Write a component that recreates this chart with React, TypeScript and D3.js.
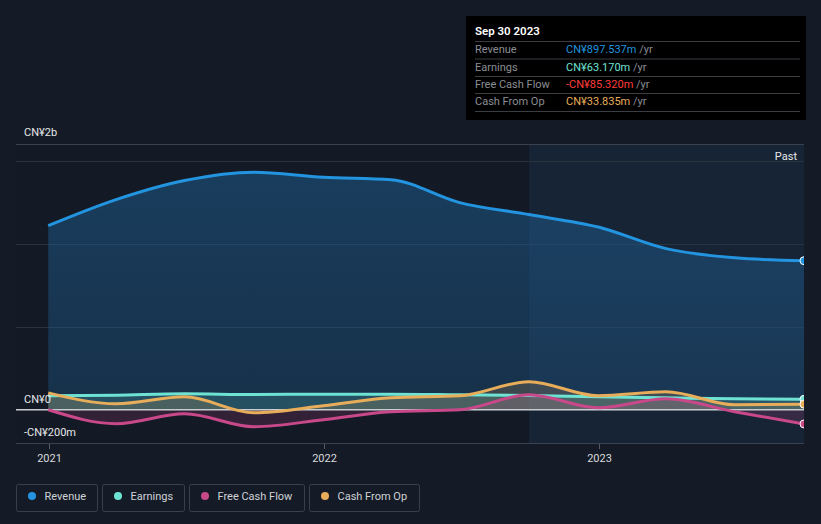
import { useRef, useEffect } from 'react'
import * as d3 from 'd3'

const dates = [
	'2020-12-31', '2021-03-31', '2021-06-30', '2021-09-30',
	'2021-12-31', '2022-03-31', '2022-06-30', '2022-09-30',
	'2022-12-31', '2023-03-31', '2023-06-30', '2023-09-30',
]
// values in CN¥ millions
const revenue = [1108, 1265, 1380, 1430, 1400, 1385, 1247, 1175, 1100, 970, 915, 897.537]
const earnings = [84, 88, 96, 92, 94, 94, 90, 86, 78, 72, 66, 63.17]
const freeCashFlow = [0, -84, -24, -102, -60, -12, 0, 90, 12, 66, -12, -85.32]
const cashFromOp = [102, 36, 78, -18, 24, 72, 84, 169, 84, 108, 30, 33.835]

const seriesNames = ['Revenue', 'Earnings', 'Free Cash Flow', 'Cash From Op']
const seriesValues = [revenue, earnings, freeCashFlow, cashFromOp]
const seriesColors = ['#2394df', '#6fe3d3', '#c8488a', '#e8ad5a']
const tooltipValues = ['CN¥897.537m', 'CN¥63.170m', '-CN¥85.320m', 'CN¥33.835m']
const tooltipColors = ['#2394df', '#6fe3d3', '#ff3b3b', '#e8ad5a']
const xTicks = ['2021-01-01', '2022-01-01', '2023-01-01']
const yLabels = [
	{ v: 2000, t: 'CN¥2b' },
	{ v: 0, t: 'CN¥0' },
	{ v: -200, t: '-CN¥200m' },
]

const W = 821
const H = 524
const font = 'Roboto, "Noto Sans", sans-serif'

const App = () => {
	const svgRef = useRef<SVGSVGElement | null>(null)

	useEffect(() => {
		document.body.style.margin = '0'
		document.body.style.background = '#151b26'
		if (!svgRef.current) return
		const svg = d3.select(svgRef.current)
		svg.selectAll('*').remove()

		const parse = d3.timeParse('%Y-%m-%d')
		const t = dates.map((d) => parse(d)!)

		const x = d3
			.scaleTime()
			.domain([parse('2021-01-01')!, parse('2023-09-30')!])
			.range([49, 804])
		const y = d3.scaleLinear().domain([-200, 1600]).range([443, 144])

		const left = 16
		const right = 804
		const split = x(parse('2022-09-30')!)

		svg.append('rect').attr('width', W).attr('height', H).attr('fill', '#151b26')
		svg
			.append('rect')
			.attr('x', left)
			.attr('y', 144)
			.attr('width', split - left)
			.attr('height', 443 - 144)
			.attr('fill', '#131a25')
		svg
			.append('rect')
			.attr('x', split)
			.attr('y', 144)
			.attr('width', right - split)
			.attr('height', 443 - 144)
			.attr('fill', '#172435')

		// grid
		const grid = [1600, 1500, 1000, 500]
		svg
			.append('g')
			.selectAll('line')
			.data(grid)
			.enter()
			.append('line')
			.attr('x1', left)
			.attr('x2', right)
			.attr('y1', (d) => Math.round(y(d)) + 0.5)
			.attr('y2', (d) => Math.round(y(d)) + 0.5)
			.attr('stroke', (d) => (d === 1600 ? '#3a414c' : '#2a323d'))
			.attr('stroke-width', 1)

		const defs = svg.append('defs')
		const grad = defs
			.append('linearGradient')
			.attr('id', 'revGrad')
			.attr('x1', 0)
			.attr('x2', 0)
			.attr('y1', 0)
			.attr('y2', 1)
		grad.append('stop').attr('offset', '0%').attr('stop-color', '#1e5a8c').attr('stop-opacity', 0.55)
		grad.append('stop').attr('offset', '100%').attr('stop-color', '#1e5a8c').attr('stop-opacity', 0.35)

		const fillOpacity = [1, 0.18, 0.18, 0.18]

		seriesValues.forEach((vals, i) => {
			const pts = vals.map((v, j) => [t[j], v] as [Date, number])
			const area = d3
				.area<[Date, number]>()
				.x((d) => x(d[0]))
				.y0(y(0))
				.y1((d) => y(d[1]))
				.curve(d3.curveMonotoneX)
			svg
				.append('path')
				.datum(pts)
				.attr('d', area)
				.attr('fill', i === 0 ? 'url(#revGrad)' : seriesColors[i])
				.attr('fill-opacity', fillOpacity[i])
		})

		// zero line
		svg
			.append('line')
			.attr('x1', left)
			.attr('x2', right)
			.attr('y1', y(0))
			.attr('y2', y(0))
			.attr('stroke', '#c9ccd1')
			.attr('stroke-width', 1.5)

		const order = [0, 1, 3, 2]
		order.forEach((i) => {
			const pts = seriesValues[i].map((v, j) => [t[j], v] as [Date, number])
			const line = d3
				.line<[Date, number]>()
				.x((d) => x(d[0]))
				.y((d) => y(d[1]))
				.curve(d3.curveMonotoneX)
			svg
				.append('path')
				.datum(pts)
				.attr('d', line)
				.attr('fill', 'none')
				.attr('stroke', seriesColors[i])
				.attr('stroke-width', 3)
		})

		// end markers
		order.forEach((i) => {
			const vals = seriesValues[i]
			svg
				.append('circle')
				.attr('cx', x(t[t.length - 1]))
				.attr('cy', y(vals[vals.length - 1]))
				.attr('r', 4)
				.attr('fill', seriesColors[i])
				.attr('stroke', '#ffffff')
				.attr('stroke-width', 1)
		})

		// cover right overflow
		svg.append('rect').attr('x', right).attr('y', 130).attr('width', W - right).attr('height', 330).attr('fill', '#151b26')

		// bottom axis line
		svg
			.append('line')
			.attr('x1', left)
			.attr('x2', right)
			.attr('y1', 443.5)
			.attr('y2', 443.5)
			.attr('stroke', '#3a414c')

		// x axis
		const xg = svg.append('g')
		xTicks.forEach((d) => {
			const px = Math.round(x(parse(d)!)) + 0.5
			xg.append('line').attr('x1', px).attr('x2', px).attr('y1', 444).attr('y2', 449).attr('stroke', '#555c66')
			xg
				.append('text')
				.attr('x', px)
				.attr('y', 462)
				.attr('text-anchor', 'middle')
				.attr('fill', '#d8dadd')
				.attr('font-family', font)
				.attr('font-size', 11)
				.text(d3.timeFormat('%Y')(parse(d)!))
		})

		// y labels
		const labelY: Record<number, number> = { 2000: 136, 0: 403, [-200]: 436 }
		yLabels.forEach((l) => {
			svg
				.append('text')
				.attr('x', 24)
				.attr('y', labelY[l.v])
				.attr('fill', '#e6e7e9')
				.attr('font-family', font)
				.attr('font-size', 11)
				.text(l.t)
		})

		svg
			.append('text')
			.attr('x', 797)
			.attr('y', 160)
			.attr('text-anchor', 'end')
			.attr('fill', '#e6e7e9')
			.attr('font-family', font)
			.attr('font-size', 11)
			.text('Past')

		// tooltip
		const tip = svg.append('g').attr('transform', 'translate(466,16)')
		tip.append('rect').attr('width', 340).attr('height', 104).attr('fill', '#000000')
		tip
			.append('text')
			.attr('x', 9)
			.attr('y', 19)
			.attr('fill', '#ffffff')
			.attr('font-family', font)
			.attr('font-size', 11.5)
			.attr('font-weight', 600)
			.text('Sep 30 2023')
		const rowY = [33, 50.5, 68, 85]
		seriesNames.forEach((n, i) => {
			tip
				.append('line')
				.attr('x1', 9)
				.attr('x2', 334)
				.attr('y1', rowY[i] - 7.5)
				.attr('y2', rowY[i] - 7.5)
				.attr('stroke', '#3a3d42')
			tip
				.append('text')
				.attr('x', 9)
				.attr('y', rowY[i] + 4)
				.attr('fill', '#8a8e94')
				.attr('font-family', font)
				.attr('font-size', 11)
				.text(n)
			const tv = tip
				.append('text')
				.attr('x', 100)
				.attr('y', rowY[i] + 4)
				.attr('font-family', font)
				.attr('font-size', 11)
			tv.append('tspan').attr('fill', tooltipColors[i]).text(tooltipValues[i])
			tv.append('tspan').attr('fill', '#8a8e94').text(' /yr')
		})
		tip
			.append('line')
			.attr('x1', 9)
			.attr('x2', 334)
			.attr('y1', 95.5)
			.attr('y2', 95.5)
			.attr('stroke', '#3a3d42')

		// legend
		const boxes = [
			{ x: 16, w: 81 },
			{ x: 102, w: 82 },
			{ x: 189, w: 115 },
			{ x: 309, w: 110 },
		]
		seriesNames.forEach((n, i) => {
			const g = svg.append('g').attr('transform', `translate(${boxes[i].x + 0.5},484.5)`)
			g.append('rect')
				.attr('width', boxes[i].w)
				.attr('height', 27)
				.attr('rx', 2)
				.attr('fill', 'none')
				.attr('stroke', '#3a404a')
			g.append('circle').attr('cx', 15.5).attr('cy', 11.5).attr('r', 4).attr('fill', seriesColors[i])
			g.append('text')
				.attr('x', 28)
				.attr('y', 15.5)
				.attr('fill', '#cfd2d6')
				.attr('font-family', font)
				.attr('font-size', 11)
				.text(n)
		})
	}, [])

	return <svg ref={svgRef} width={W} height={H} style={{ display: 'block' }}></svg>
}

export default App
